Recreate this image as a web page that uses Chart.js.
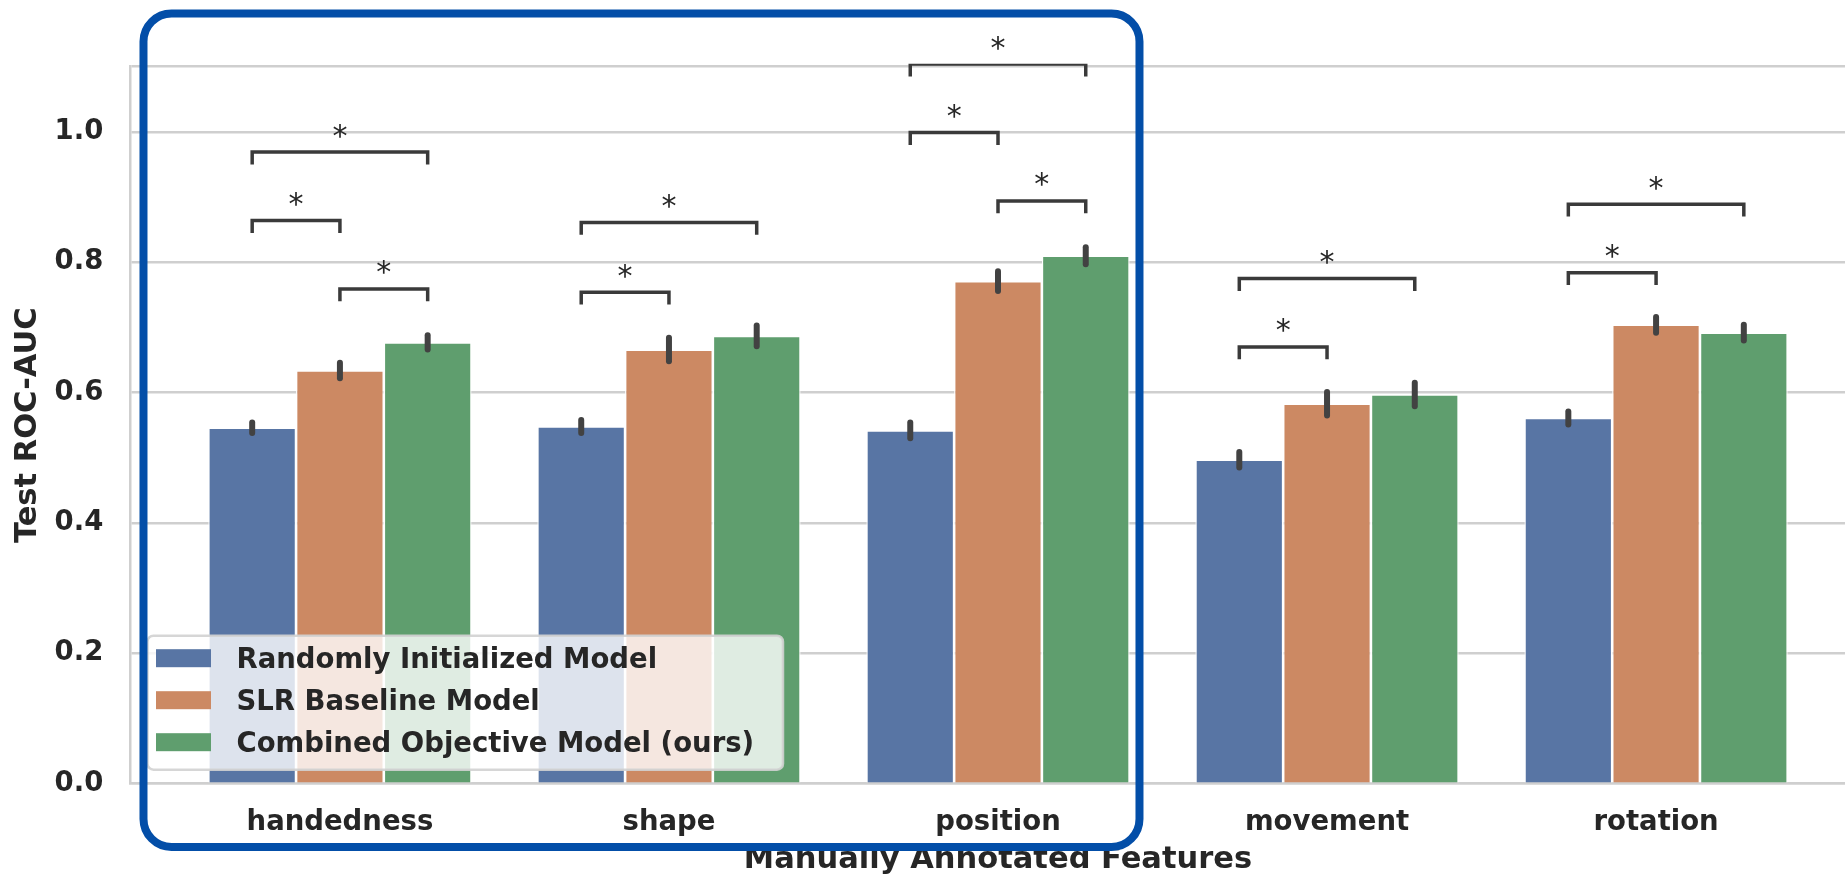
<!DOCTYPE html>
<html>
<head>
<meta charset="utf-8">
<script src="https://cdn.jsdelivr.net/npm/chart.js@4.4.1/dist/chart.umd.min.js"></script>
<style>
  html, body { margin: 0; padding: 0; background: #ffffff; overflow: hidden; width: 1845px; height: 875px; }
  #wrap { position: absolute; left: 0; top: 0; width: 1880px; height: 875px; }
</style>
</head>
<body>
<div id="wrap"><canvas id="chart"></canvas></div>
<script>
// ---------------- data ----------------
const categories = ['handedness', 'shape', 'position', 'movement', 'rotation'];
const seriesNames = ['Randomly Initialized Model', 'SLR Baseline Model', 'Combined Objective Model (ours)'];
const randomInit   = [0.546, 0.548, 0.542, 0.497, 0.561];
const slrBaseline  = [0.634, 0.666, 0.771, 0.583, 0.704];
const combined     = [0.677, 0.687, 0.810, 0.597, 0.692];
// half-length of the error bars
const randomInitErr  = [0.008, 0.010, 0.012, 0.012, 0.010];
const slrBaselineErr = [0.012, 0.018, 0.015, 0.018, 0.012];
const combinedErr    = [0.011, 0.016, 0.013, 0.018, 0.012];
const yTicks = [0, 0.2, 0.4, 0.6, 0.8, 1.0];
const yMax = 1.1;
// significance brackets: category index, from series, to series, bracket level
const sigCategory = [0, 0, 0, 1, 1, 2, 2, 2, 3, 3, 4, 4];
const sigFrom     = [0, 0, 1, 0, 0, 0, 0, 1, 0, 0, 0, 0];
const sigTo       = [2, 1, 2, 2, 1, 2, 1, 2, 2, 1, 2, 1];
const sigLevel    = [0.969, 0.864, 0.759, 0.861, 0.754, 1.104, 0.999, 0.894, 0.775, 0.670, 0.889, 0.784];
const sigLabel = '*';
// highlighted region (in data units)
const highlightX = [-0.597, 2.430];
const highlightY = [-0.097, 1.1815];

// ---------------- styling ----------------
const FONT = "'DejaVu Sans', sans-serif";
const TEXT = '#262626';
const GRID = '#cfcfcf';
const colors = ['#5875A4', '#CC8963', '#5F9E6E'];
const values = [randomInit, slrBaseline, combined];
const errs = [randomInitErr, slrBaselineErr, combinedErr];
const bracketDrop = 0.019;

Chart.defaults.font.family = FONT;
Chart.defaults.color = TEXT;

const datasets = seriesNames.map((name, s) => ({
  label: name,
  data: values[s].map((v, i) => ({ x: i, y: v })),
  backgroundColor: colors[s],
  borderColor: '#ffffff',
  borderWidth: 1.3,
  borderSkipped: 'start',
  barPercentage: 1.0,
  categoryPercentage: 0.8
}));

const overlay = {
  id: 'overlay',
  afterDatasetsDraw(chart) {
    const ctx = chart.ctx, ys = chart.scales.y, ca = chart.chartArea;
    // error bars
    ctx.save();
    ctx.strokeStyle = '#424242';
    ctx.lineWidth = 6;
    ctx.lineCap = 'round';
    values.forEach((vals, s) => {
      const meta = chart.getDatasetMeta(s);
      meta.data.forEach((bar, i) => {
        const v = vals[i], e = errs[s][i];
        ctx.beginPath();
        ctx.moveTo(bar.x, ys.getPixelForValue(v - e));
        ctx.lineTo(bar.x, ys.getPixelForValue(v + e));
        ctx.stroke();
      });
    });
    ctx.restore();

    // significance brackets (clipped near the axes top)
    ctx.save();
    ctx.beginPath();
    ctx.rect(ca.left, ca.top - 3, ca.right - ca.left, ca.bottom - ca.top + 3);
    ctx.clip();
    ctx.strokeStyle = '#3a3a3a';
    ctx.lineWidth = 3.5;
    ctx.lineJoin = 'miter';
    sigCategory.forEach((c, k) => {
      const x1 = chart.getDatasetMeta(sigFrom[k]).data[c].x;
      const x2 = chart.getDatasetMeta(sigTo[k]).data[c].x;
      const yl = ys.getPixelForValue(sigLevel[k]);
      const yt = ys.getPixelForValue(sigLevel[k] - bracketDrop);
      ctx.beginPath();
      ctx.moveTo(x1, yt);
      ctx.lineTo(x1, yl);
      ctx.lineTo(x2, yl);
      ctx.lineTo(x2, yt);
      ctx.stroke();
    });
    ctx.restore();

    ctx.save();
    ctx.fillStyle = TEXT;
    ctx.font = `30px ${FONT}`;
    ctx.textAlign = 'center';
    ctx.textBaseline = 'alphabetic';
    sigCategory.forEach((c, k) => {
      const x1 = chart.getDatasetMeta(sigFrom[k]).data[c].x;
      const x2 = chart.getDatasetMeta(sigTo[k]).data[c].x;
      const yl = ys.getPixelForValue(sigLevel[k]);
      ctx.fillText(sigLabel, (x1 + x2) / 2, yl - 6.5);
    });
    ctx.restore();
  },
  afterDraw(chart) {
    const ctx = chart.ctx, xs = chart.scales.x, ys = chart.scales.y, ca = chart.chartArea;
    // legend inside the axes (lower left)
    const lw = 635.5, lh = 134;
    const lx = ca.left + 17.5, ly = ca.bottom - 14 - lh;
    ctx.save();
    ctx.beginPath();
    ctx.roundRect(lx, ly, lw, lh, 6);
    ctx.fillStyle = 'rgba(255,255,255,0.8)';
    ctx.fill();
    ctx.strokeStyle = 'rgba(210,210,210,0.9)';
    ctx.lineWidth = 2.5;
    ctx.stroke();
    ctx.font = `bold 27.5px ${FONT}`;
    ctx.textAlign = 'left';
    ctx.textBaseline = 'alphabetic';
    chart.data.datasets.forEach((ds, s) => {
      const cy = ly + 22.5 + s * 42;
      ctx.fillStyle = ds.backgroundColor;
      ctx.fillRect(lx + 8.5, cy - 9, 55, 18);
      ctx.fillStyle = TEXT;
      ctx.fillText(ds.label, lx + 89, cy + 10);
    });
    ctx.restore();

    // blue highlight frame
    const hx1 = xs.getPixelForValue(highlightX[0]), hx2 = xs.getPixelForValue(highlightX[1]);
    const hy1 = ys.getPixelForValue(highlightY[1]), hy2 = ys.getPixelForValue(highlightY[0]);
    ctx.save();
    ctx.strokeStyle = '#034EA8';
    ctx.lineWidth = 8;
    ctx.beginPath();
    ctx.roundRect(hx1, hy1, hx2 - hx1, hy2 - hy1, 28);
    ctx.stroke();
    ctx.restore();
  }
};

new Chart(document.getElementById('chart'), {
  type: 'bar',
  data: { datasets },
  options: {
    responsive: true,
    maintainAspectRatio: false,
    animation: false,
    events: [],
    layout: { padding: { top: 66.7, right: 14, bottom: 0, left: 0 } },
    plugins: {
      legend: { display: false },
      tooltip: { enabled: false }
    },
    scales: {
      x: {
        type: 'linear',
        offset: false,
        min: -0.638,
        max: 4.638,
        afterBuildTicks: (s) => { s.ticks = categories.map((c, i) => ({ value: i })); },
        afterFit: (s) => { s.height = 91.3; },
        ticks: {
          callback: (v) => categories[v] ?? '',
          autoSkip: false,
          maxRotation: 0,
          font: { family: FONT, weight: 'bold', size: 27.5 },
          color: TEXT,
          padding: 22.5
        },
        grid: { display: false, drawTicks: false, offset: false },
        border: { display: true, color: GRID, width: 2.5 },
        title: {
          display: true,
          text: 'Manually Annotated Features',
          font: { family: FONT, weight: 'bold', size: 30.5, lineHeight: 1.0 },
          color: TEXT,
          padding: { top: 0, bottom: 0 }
        }
      },
      y: {
        min: 0,
        max: yMax,
        afterBuildTicks: (s) => { s.ticks = yTicks.concat([yMax]).map(v => ({ value: v })); },
        afterFit: (s) => { s.width = 130; },
        ticks: {
          callback: (v) => (v > 1.05 ? '' : Number(v).toFixed(1)),
          font: { family: FONT, weight: 'bold', size: 27.5 },
          color: TEXT,
          padding: 26.7
        },
        grid: { color: GRID, lineWidth: 2.5, drawTicks: false },
        border: { display: true, color: GRID, width: 2.5 },
        title: {
          display: true,
          text: 'Test ROC-AUC',
          font: { family: FONT, weight: 'bold', size: 30.5 },
          color: TEXT,
          padding: { top: 9.5, bottom: 0 }
        }
      }
    }
  },
  plugins: [overlay]
});
</script>
</body>
</html>
